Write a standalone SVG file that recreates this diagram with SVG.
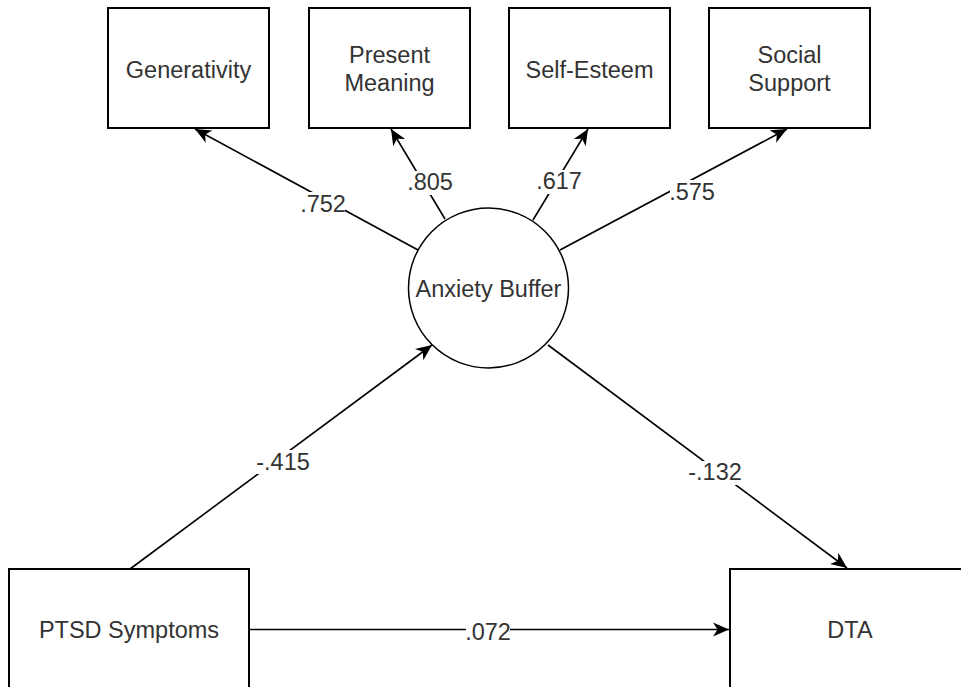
<svg xmlns="http://www.w3.org/2000/svg" width="961" height="687" viewBox="0 0 961 687">
<defs>
<style>
.box{fill:#fff;stroke:#000;stroke-width:2}
.circ{fill:#fff;stroke:#000;stroke-width:1.5}
.t{font-family:"Liberation Sans",Arial,sans-serif;font-size:23.5px;fill:#333;text-anchor:middle}
.edge{fill:none;stroke:#000;stroke-width:1.6;marker-end:url(#arr)}
.lblbg{fill:#fff}
</style>
<marker id="arr" markerUnits="userSpaceOnUse" viewBox="-17 -8 18 16" refX="0" refY="0" markerWidth="18" markerHeight="16" orient="auto">
<path d="M0,0 L-16,-7 L-11.5,0 L-16,7 Z" fill="#000"/>
</marker>
</defs>
<rect width="961" height="687" fill="#fff"/>
<g id="connectors">
<line class="edge" x1="418" y1="250" x2="195" y2="129"/>
<line class="edge" x1="445" y1="219" x2="391" y2="129"/>
<line class="edge" x1="533" y1="220" x2="588" y2="129"/>
<line class="edge" x1="560" y1="250" x2="787" y2="129"/>
<line class="edge" x1="130" y1="569" x2="432" y2="345"/>
<line class="edge" x1="548" y1="345" x2="847" y2="568"/>
<line class="edge" x1="249" y1="629.5" x2="729" y2="629.5"/>
<rect class="lblbg" x="301" y="192" width="44" height="24"/>
<text class="t" x="323" y="211.5">.752</text>
<rect class="lblbg" x="408" y="171" width="44" height="24"/>
<text class="t" x="430" y="190">.805</text>
<rect class="lblbg" x="537" y="170" width="44" height="24"/>
<text class="t" x="559" y="189">.617</text>
<rect class="lblbg" x="670" y="180" width="44" height="24"/>
<text class="t" x="692" y="199.5">.575</text>
<rect class="lblbg" x="255" y="450" width="56" height="24"/>
<text class="t" x="283" y="469.5">-.415</text>
<rect class="lblbg" x="687" y="461" width="56" height="24"/>
<text class="t" x="715" y="480">-.132</text>
<rect class="lblbg" x="466" y="619" width="44" height="22"/>
<text class="t" x="488" y="640">.072</text>
</g>
<g id="generativity">
<rect class="box" x="108" y="8" width="161" height="120"/>
<text class="t" x="188.5" y="78">Generativity</text>
</g>
<g id="present-meaning">
<rect class="box" x="309" y="8" width="161" height="120"/>
<text class="t" x="389.5" y="63">Present</text>
<text class="t" x="389.5" y="90.5">Meaning</text>
</g>
<g id="self-esteem">
<rect class="box" x="509" y="8" width="161" height="120"/>
<text class="t" x="589.5" y="77.5">Self-Esteem</text>
</g>
<g id="social-support">
<rect class="box" x="709" y="8" width="161" height="120"/>
<text class="t" x="789.5" y="63">Social</text>
<text class="t" x="789.5" y="90.5">Support</text>
</g>
<g id="anxiety-buffer">
<circle class="circ" cx="488.5" cy="288" r="80"/>
<text class="t" x="488.5" y="297">Anxiety Buffer</text>
</g>
<g id="ptsd-symptoms">
<rect class="box" x="9" y="569" width="240" height="120"/>
<text class="t" x="129" y="638">PTSD Symptoms</text>
</g>
<g id="dta">
<rect class="box" x="730" y="569" width="240" height="120"/>
<text class="t" x="850" y="638">DTA</text>
</g>
</svg>
